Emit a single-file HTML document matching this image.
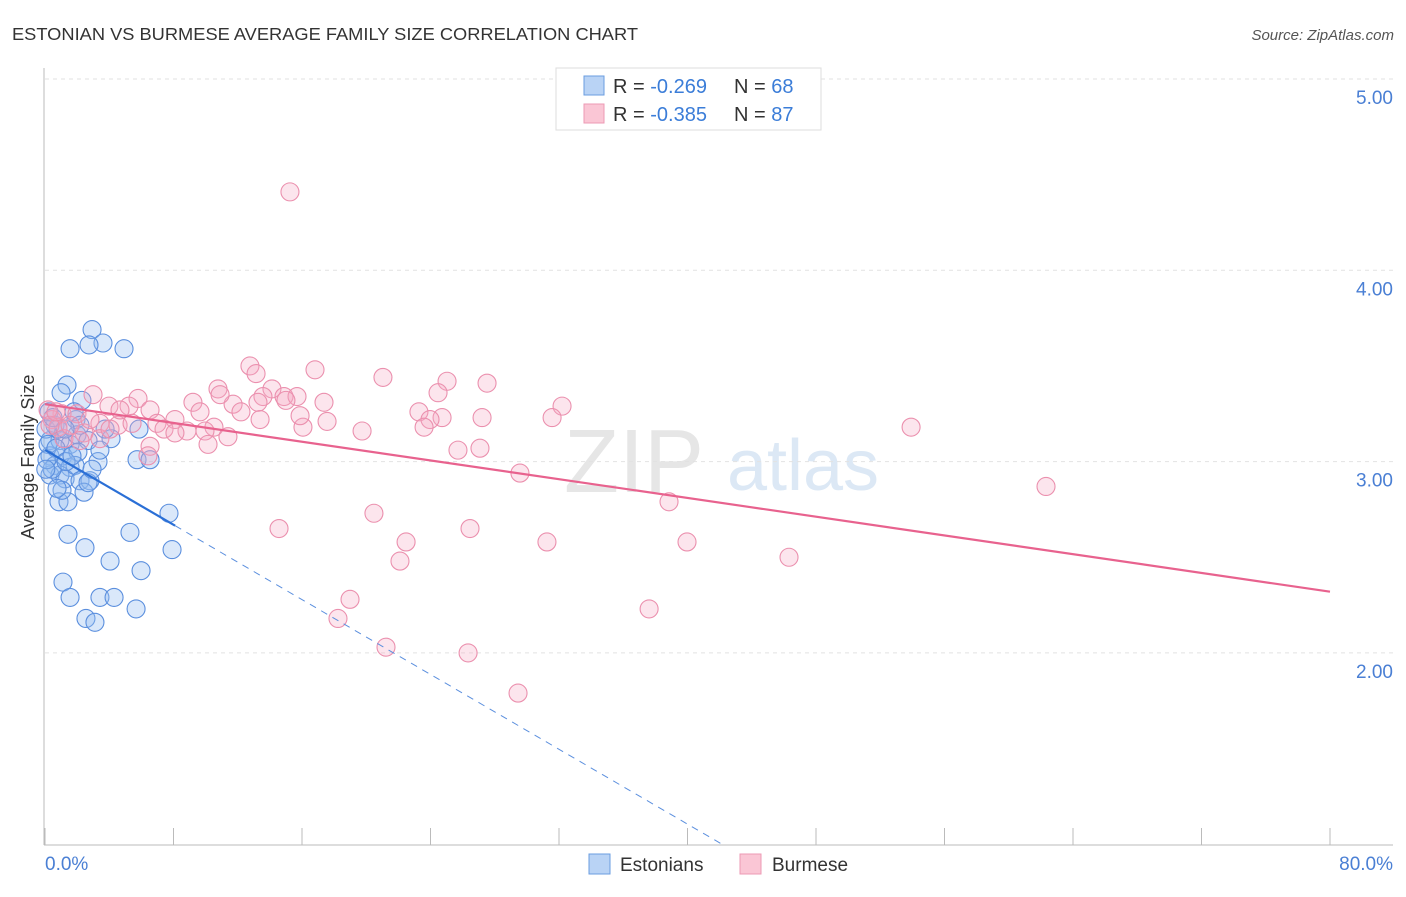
<!DOCTYPE html>
<html><head><meta charset="utf-8"><style>
body{margin:0;background:#fff;font-family:"Liberation Sans",sans-serif}
svg text{font-family:"Liberation Sans",sans-serif}
</style></head><body>
<svg width="1406" height="892" viewBox="0 0 1406 892">
<text x="12" y="40" font-size="17.5" fill="#333" textLength="626" lengthAdjust="spacingAndGlyphs">ESTONIAN VS BURMESE AVERAGE FAMILY SIZE CORRELATION CHART</text>
<text x="1394" y="40" font-size="15" fill="#555" font-style="italic" text-anchor="end">Source: ZipAtlas.com</text>
<g>
<text x="634" y="492" font-size="90" fill="#e6e6e6" font-family="Liberation Serif" text-anchor="middle">ZIP</text>
<text x="803" y="490" font-size="72" fill="#dce8f5" text-anchor="middle">atlas</text>
</g>
<g id="grid"></g>
<g id="axes"></g>
<g id="marks"></g>
<g>
<rect x="556" y="68" width="265" height="62" fill="#fff" stroke="#ddd"/>
<rect x="584" y="76" width="20" height="19" fill="#b9d3f5" stroke="#6a9de0"/>
<rect x="584" y="104" width="20" height="19" fill="#fac6d5" stroke="#ec9ab4"/>
<text x="613" y="93" font-size="20" fill="#333">R = <tspan fill="#3b7dd8">-0.269</tspan><tspan x="734">N = </tspan><tspan fill="#3b7dd8">68</tspan></text>
<text x="613" y="121" font-size="20" fill="#333">R = <tspan fill="#3b7dd8">-0.385</tspan><tspan x="734">N = </tspan><tspan fill="#3b7dd8">87</tspan></text>
</g>
<text x="34" y="457" font-size="18" fill="#333" text-anchor="middle" transform="rotate(-90 34 457)">Average Family Size</text>
<text x="45" y="870" font-size="19" fill="#4a7fd4">0.0%</text>
<text x="1393" y="870" font-size="19" fill="#4a7fd4" text-anchor="end">80.0%</text>
<g>
<rect x="589" y="854" width="21" height="20" fill="#b9d3f5" stroke="#6a9de0"/>
<text x="620" y="871" font-size="19" fill="#333">Estonians</text>
<rect x="740" y="854" width="21" height="20" fill="#fac6d5" stroke="#ec9ab4"/>
<text x="772" y="871" font-size="19" fill="#333">Burmese</text>
</g>
</svg>
<script>
const yTicks=[5,4,3,2];
const yTickLabels=["5.00","4.00","3.00","2.00"];
const xTicks=[0,8,16,24,32,40,48,56,64,72,80];
const estX=[2.93,1.56,3.61,4.92,2.74,1.37,1.00,2.30,1.93,0.25,0.62,0.31,0.93,1.56,1.99,2.68,0.31,1.12,2.05,0.62,1.56,0.31,0.93,1.25,1.87,2.18,2.80,3.30,4.11,5.85,5.73,6.54,0.87,1.43,2.43,2.68,1.43,5.29,2.49,4.05,7.91,5.98,7.72,1.12,1.56,3.42,4.30,5.67,2.55,3.11,0.06,0.19,0.44,0.68,1.31,0.12,1.68,0.81,0.50,3.42,3.74,2.93,1.06,1.81,0.05,2.18,1.25,0.75];
const estY=[3.69,3.59,3.62,3.59,3.61,3.40,3.36,3.32,3.22,3.26,3.19,3.11,3.11,3.09,3.14,3.11,3.03,3.03,3.05,2.98,2.97,2.93,2.93,2.91,2.98,2.90,2.90,3.00,3.12,3.17,3.01,3.01,2.79,2.79,2.84,2.89,2.62,2.63,2.55,2.48,2.54,2.43,2.73,2.37,2.29,2.29,2.29,2.23,2.18,2.16,3.17,3.09,2.96,3.07,3.00,3.01,3.03,3.17,3.23,3.06,3.17,2.96,2.85,3.26,2.96,3.19,3.17,2.86];
const burX=[15.25,12.76,16.81,13.14,21.04,27.52,25.03,24.47,10.77,14.13,2.99,5.79,9.21,11.71,13.57,14.88,15.69,17.37,13.26,32.19,3.98,5.23,6.54,9.65,12.20,15.00,23.28,1.06,1.99,31.57,27.21,24.72,17.56,16.06,19.74,23.97,23.60,6.97,8.09,8.84,10.52,9.96,7.41,0.44,0.81,3.42,4.55,2.43,1.18,6.54,10.15,11.39,6.41,3.42,53.92,25.71,27.08,29.57,62.32,38.85,20.48,14.57,26.46,22.48,31.25,39.97,22.10,46.32,18.99,37.61,18.24,21.23,26.34,29.45,0.19,0.31,1.56,2.80,4.67,8.09,10.90,13.39,15.88,5.42,0.68,2.18,4.05];
const burY=[4.41,3.50,3.48,3.46,3.44,3.41,3.42,3.36,3.38,3.38,3.35,3.33,3.31,3.30,3.34,3.34,3.34,3.31,3.31,3.29,3.29,3.29,3.27,3.26,3.26,3.32,3.26,3.25,3.25,3.23,3.23,3.23,3.21,3.18,3.16,3.22,3.18,3.20,3.22,3.16,3.18,3.16,3.17,3.22,3.18,3.20,3.19,3.15,3.12,3.08,3.09,3.13,3.03,3.12,3.18,3.06,3.07,2.94,2.87,2.79,2.73,2.65,2.65,2.58,2.58,2.58,2.48,2.50,2.28,2.23,2.18,2.03,2.00,1.79,3.27,3.19,3.19,3.22,3.27,3.15,3.35,3.22,3.24,3.20,3.26,3.11,3.17];
const estTrend=[3.061,-0.0489];
const burTrend=[3.30,-0.01225];
const X0=45,X1=1330,Y5=79,PX_PER_UNIT=191.3;
const sx=v=>X0+(v/80)*(X1-X0);
const sy=v=>Y5+(5-v)*PX_PER_UNIT;
const NS="http://www.w3.org/2000/svg";
function mk(tag,attrs,parent){const e=document.createElementNS(NS,tag);for(const k in attrs)e.setAttribute(k,attrs[k]);parent.appendChild(e);return e;}
const grid=document.getElementById('grid'),axes=document.getElementById('axes'),marks=document.getElementById('marks');
yTicks.forEach((t,i)=>{
 const l=mk('line',{x1:45,x2:1393,y1:sy(t),y2:sy(t),stroke:'#e2e2e2','stroke-dasharray':'4,4'},grid);
 
 
 const tx=mk('text',{x:1393,y:sy(t)+25,'font-size':19,fill:'#4a7fd4','text-anchor':'end'},axes);
 tx.textContent=yTickLabels[i];
 
 
});
const ya=mk('line',{x1:44,x2:44,y1:68,y2:845,stroke:'#bbb'},axes);


const xa=mk('line',{x1:44,x2:1393,y1:845,y2:845,stroke:'#bbb'},axes);


xTicks.forEach(t=>{
 const l=mk('line',{x1:sx(t),x2:sx(t),y1:828,y2:845,stroke:'#bbb'},axes);
 
 
});
estX.forEach((x,i)=>{
 const c=mk('circle',{cx:sx(x),cy:sy(estY[i]),r:9,fill:'rgba(150,190,240,0.35)',stroke:'#5b8fde','stroke-width':1.1},marks);
 
 
});
burX.forEach((x,i)=>{
 const c=mk('circle',{cx:sx(x),cy:sy(burY[i]),r:9,fill:'rgba(245,170,195,0.3)',stroke:'#eb90ae','stroke-width':1.1},marks);
 
 
});
const bt=mk('line',{x1:sx(0),y1:sy(burTrend[0]),x2:sx(80),y2:sy(burTrend[0]+burTrend[1]*80),stroke:'#e8628e','stroke-width':2.2},marks);


const xEnd=8.1,xDash=(1-estTrend[0])/estTrend[1];
const et=mk('line',{x1:sx(0),y1:sy(estTrend[0]),x2:sx(xEnd),y2:sy(estTrend[0]+estTrend[1]*xEnd),stroke:'#2a6fd6','stroke-width':2.2},marks);


const ed=mk('line',{x1:sx(xEnd),y1:sy(estTrend[0]+estTrend[1]*xEnd),x2:sx(xDash),y2:sy(1),stroke:'#5b8fde','stroke-width':1,'stroke-dasharray':'7,6'},marks);


</script>
</body></html>
